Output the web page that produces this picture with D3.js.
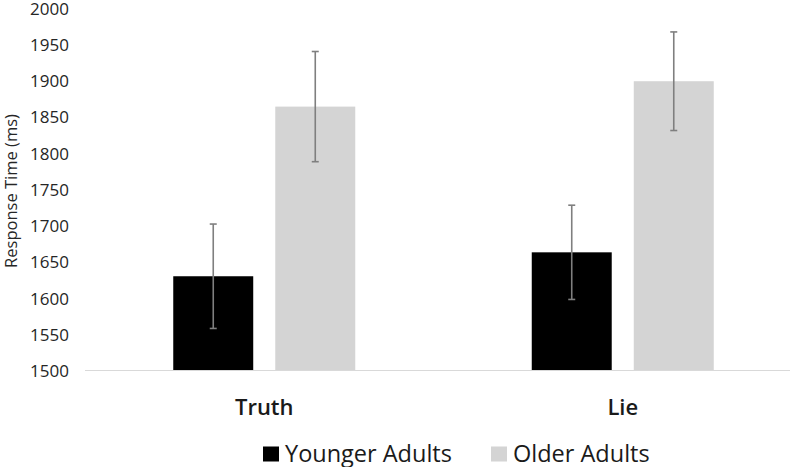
<!DOCTYPE html>
<html><head><meta charset="utf-8">
<script src="https://cdn.jsdelivr.net/npm/d3@7"></script>
<style>html,body{margin:0;padding:0;background:#fff;}svg{display:block;}</style>
</head><body>
<script>
const categories = ["Truth", "Lie"];
const series = ["Younger Adults", "Older Adults"];
const youngerMeans = [1630, 1663];
const olderMeans = [1864, 1899];
const youngerErrors = [72, 65];
const olderErrors = [76, 68];
const yTicks = [1500, 1550, 1600, 1650, 1700, 1750, 1800, 1850, 1900, 1950, 2000];
const yTitle = "Response Time (ms)";
const colors = ["#000000", "#d4d4d4"];

const W = 800, H = 467;
const svg = d3.select("body").append("svg").attr("width", W).attr("height", H);
const font = "'Open Sans', sans-serif";

const y = d3.scaleLinear().domain([1500, 2000]).range([370.5, 8]);
const x0 = d3.scaleBand().domain(categories).range([85, 802]).padding(0);
const groupW = 182;
const x1 = d3.scaleBand().domain(series).range([0, groupW]).paddingInner(0.216).paddingOuter(0);

const data = [];
categories.forEach((c, i) => {
  data.push({cat: c, s: series[0], v: youngerMeans[i], e: youngerErrors[i], col: colors[0]});
  data.push({cat: c, s: series[1], v: olderMeans[i], e: olderErrors[i], col: colors[1]});
});
const bx = d => x0(d.cat) + (x0.bandwidth() - groupW) / 2 + x1(d.s);

// y axis labels
const yAxis = d3.axisLeft(y).tickValues(yTicks).tickSize(0).tickPadding(0).tickFormat(d3.format("d"));
const gy = svg.append("g").attr("transform", "translate(69,0)").call(yAxis);
gy.select(".domain").remove();
gy.selectAll("text").attr("font-family", font).attr("font-size", 17).attr("fill", "#262626").attr("dy", "0.36em");

// bars
svg.append("g").selectAll("rect").data(data).join("rect")
  .attr("x", d => bx(d))
  .attr("width", x1.bandwidth())
  .attr("y", d => y(d.v))
  .attr("height", d => y(1500) - y(d.v))
  .attr("fill", d => d.col);

// baseline
svg.append("line").attr("x1", 85).attr("x2", 790).attr("y1", y(1500)).attr("y2", y(1500))
  .attr("stroke", "#d9d9d9").attr("stroke-width", 1.2);

// error bars
const eg = svg.append("g").attr("stroke", "#7f7f7f").attr("stroke-width", 1.6);
data.forEach(d => {
  const cx = bx(d) + x1.bandwidth() / 2;
  eg.append("line").attr("x1", cx).attr("x2", cx).attr("y1", y(d.v + d.e)).attr("y2", y(d.v - d.e));
  eg.append("line").attr("x1", cx - 3.5).attr("x2", cx + 3.5).attr("y1", y(d.v + d.e)).attr("y2", y(d.v + d.e));
  eg.append("line").attr("x1", cx - 3.5).attr("x2", cx + 3.5).attr("y1", y(d.v - d.e)).attr("y2", y(d.v - d.e));
});

// category labels
const xAxis = d3.axisBottom(x0).tickSize(0).tickPadding(0);
const gx = svg.append("g").attr("transform", "translate(0,415)").call(xAxis);
gx.select(".domain").remove();
gx.selectAll("text").attr("font-family", font).attr("font-size", 22).attr("font-weight", 600)
  .attr("fill", "#1a1a1a").attr("dy", 0);

// y title
svg.append("text").attr("transform", "translate(17,191) rotate(-90)")
  .attr("text-anchor", "middle").attr("font-family", font).attr("font-size", 16.5)
  .attr("fill", "#262626").text(yTitle);

// legend
const legX = [263, 491];
series.forEach((s, i) => {
  const g = svg.append("g").attr("transform", `translate(${legX[i]},0)`);
  g.append("rect").attr("x", 0).attr("y", 446.5).attr("width", 16).attr("height", 15).attr("fill", colors[i]);
  g.append("text").attr("x", 22).attr("y", 461.5).attr("font-family", font).attr("font-size", 23.5)
    .attr("font-weight", 500).attr("fill", "#1a1a1a").text(s);
});
</script>
</body></html>
